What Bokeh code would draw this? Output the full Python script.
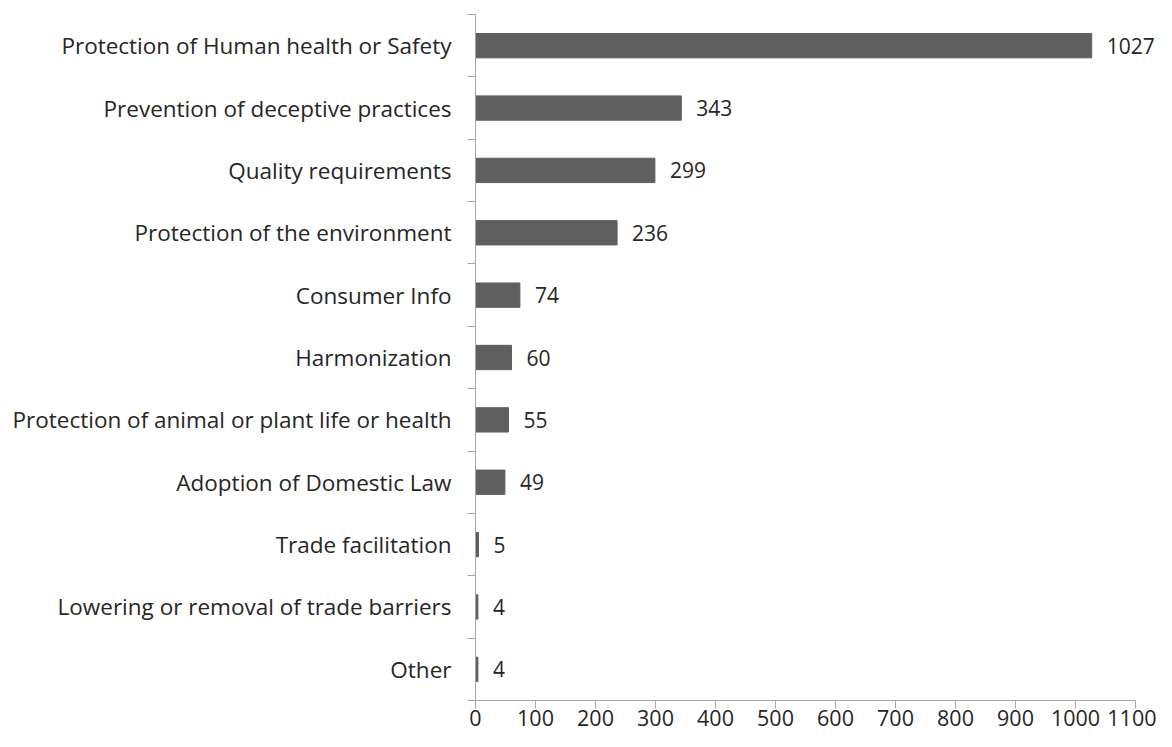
from bokeh.plotting import figure
from bokeh.models import ColumnDataSource, FixedTicker, Range1d
from bokeh.embed import file_html
from bokeh.resources import INLINE
from bokeh.core.properties import value

categories = [
    "Protection of Human health or Safety",
    "Prevention of deceptive practices",
    "Quality requirements",
    "Protection of the environment",
    "Consumer Info",
    "Harmonization",
    "Protection of animal or plant life or health",
    "Adoption of Domestic Law",
    "Trade facilitation",
    "Lowering or removal of trade barriers",
    "Other",
]
counts = [1027, 343, 299, 236, 74, 60, 55, 49, 5, 4, 4]
x_ticks = list(range(0, 1101, 100))

n = len(categories)
ypos = [n - i - 0.5 for i in range(n)]
src = ColumnDataSource(dict(y=ypos, v=counts, lab=[str(c) for c in counts]))

FONT = "Open Sans"
TXT = "#262626"
AX = "#a6a6a6"

p = figure(width=1156, height=731, output_backend="svg", toolbar_location=None,
           x_range=Range1d(0, 1135), y_range=Range1d(0, n),
           min_border_left=475, min_border_right=0, min_border_top=14, min_border_bottom=31)
p.outline_line_color = None
p.grid.visible = False
p.background_fill_color = "white"
p.border_fill_color = "white"

p.hbar(y="y", right="v", left=0, height=0.39, source=src, color="#5f5f5f")
p.text(x="v", y="y", text="lab", source=src, x_offset=15, text_baseline="middle",
       text_font=value(FONT), text_font_size="21px", text_color=TXT)

p.xaxis.bounds = (0, 1100)
p.xaxis.ticker = FixedTicker(ticks=x_ticks)
p.xaxis.axis_line_color = AX
p.xaxis.major_tick_line_color = AX
p.xaxis.major_tick_out = 8
p.xaxis.major_tick_in = 0
p.xaxis.minor_tick_line_color = None
p.xaxis.major_label_text_font = FONT
p.xaxis.major_label_text_font_size = "21.5px"
p.xaxis.major_label_text_color = TXT
p.xaxis.major_label_standoff = 1

p.yaxis.ticker = FixedTicker(ticks=ypos, minor_ticks=list(range(0, n + 1)))
p.yaxis.major_label_overrides = {y: c for y, c in zip(ypos, categories)}
p.yaxis.axis_line_color = AX
p.yaxis.major_tick_line_color = None
p.yaxis.major_tick_out = 0
p.yaxis.major_tick_in = 0
p.yaxis.minor_tick_line_color = AX
p.yaxis.minor_tick_out = 8
p.yaxis.minor_tick_in = 0
p.yaxis.major_label_text_font = FONT
p.yaxis.major_label_text_font_size = "22.5px"
p.yaxis.major_label_text_color = TXT
p.yaxis.major_label_standoff = 16

open("out.html", "w").write(file_html(p, INLINE))
